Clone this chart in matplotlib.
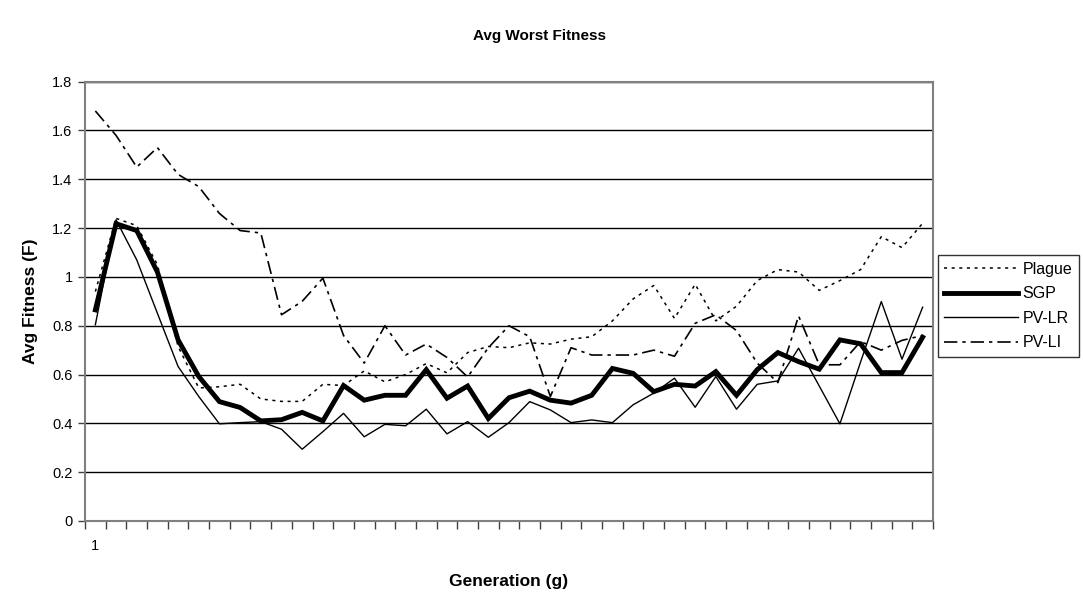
import numpy as np
import matplotlib
matplotlib.use("Agg")
import matplotlib.pyplot as plt

plt.rcParams['font.family'] = ['Liberation Sans', 'DejaVu Sans']

# data (41 generations)
generations = np.arange(1, 42)
plague = [0.94, 1.24, 1.21, 1.05, 0.715, 0.545, 0.55, 0.56, 0.50, 0.49, 0.49,
          0.56, 0.555, 0.615, 0.57, 0.60, 0.645, 0.607, 0.69, 0.715, 0.71,
          0.73, 0.725, 0.745, 0.755, 0.82, 0.91, 0.965, 0.83, 0.97, 0.82,
          0.88, 0.985, 1.03, 1.02, 0.945, 0.985, 1.03, 1.165, 1.12, 1.22]
sgp = [0.865, 1.218, 1.19, 1.02, 0.742, 0.592, 0.489, 0.465, 0.41, 0.415, 0.445,
       0.41, 0.555, 0.495, 0.515, 0.515, 0.62, 0.503, 0.553, 0.42, 0.505,
       0.532, 0.495, 0.483, 0.515, 0.625, 0.605, 0.53, 0.56, 0.553, 0.612,
       0.515, 0.62, 0.69, 0.653, 0.622, 0.742, 0.726, 0.608, 0.608, 0.753]
pv_lr = [0.804, 1.234, 1.07, 0.851, 0.633, 0.51, 0.398, 0.403, 0.407, 0.376, 0.294,
         0.366, 0.441, 0.345, 0.396, 0.39, 0.458, 0.357, 0.407, 0.343, 0.403,
         0.489, 0.455, 0.403, 0.414, 0.403, 0.476, 0.524, 0.585, 0.466, 0.592,
         0.458, 0.56, 0.574, 0.708, 0.553, 0.398, 0.652, 0.899, 0.663, 0.876]
pv_li = [1.68, 1.58, 1.45, 1.53, 1.42, 1.37, 1.26, 1.19, 1.18, 0.845, 0.90,
         0.995, 0.76, 0.647, 0.80, 0.68, 0.725, 0.67, 0.59, 0.71, 0.80,
         0.755, 0.51, 0.71, 0.68, 0.68, 0.68, 0.70, 0.675, 0.81, 0.845,
         0.78, 0.647, 0.567, 0.84, 0.64, 0.64, 0.735, 0.70, 0.74, 0.76]
y_ticks = np.arange(0, 1.81, 0.2)
y_labels = ["0", "0.2", "0.4", "0.6", "0.8", "1", "1.2", "1.4", "1.6", "1.8"]

fig = plt.figure(figsize=(10.83, 6.06), dpi=100)
ax = fig.add_axes([0.0785, 0.1403, 0.783, 0.7249])

ax.plot(generations, plague, color='black', lw=1.1, ls=(0, (2, 3)), label='Plague')
ax.plot(generations, sgp, color='black', lw=3.5, solid_joinstyle='miter', label='SGP')
ax.plot(generations, pv_lr, color='black', lw=1.0, label='PV-LR')
ax.plot(generations, pv_li, color='black', lw=1.2, ls=(0, (8, 3, 2, 3)), label='PV-LI')

ax.set_xlim(0.5, 41.5)
ax.set_ylim(0, 1.8)
ax.set_yticks(y_ticks)
ax.set_yticklabels(y_labels, fontsize=10.5)
ax.yaxis.grid(True, color='black', lw=1.0)
ax.set_axisbelow(True)

# category boundaries as tick marks, only the first label shown
ax.set_xticks(np.arange(0.5, 42, 1))
ax.set_xticklabels([])
ax.set_xticks([1], minor=True)
ax.set_xticklabels(["1"], minor=True, fontsize=10.5)
ax.tick_params(axis='x', which='major', length=6, width=1, color='#404040')
ax.tick_params(axis='x', which='minor', length=0, pad=13)
ax.tick_params(axis='y', length=5, width=1, color='#404040', pad=4)

for side in ['left', 'right', 'top', 'bottom']:
    ax.spines[side].set_color('#808080')
    ax.spines[side].set_linewidth(1.5)

fig.text(0.4985, 0.94, "Avg Worst Fitness", ha='center', va='center',
         fontsize=11, fontweight='bold')
ax.set_ylabel("Avg Fitness (F)", fontsize=12.5, fontweight='bold', labelpad=10)
fig.text(0.47, 0.04, "Generation (g)", ha='center', va='center',
         fontsize=12.5, fontweight='bold')

leg = ax.legend(loc='upper left', bbox_to_anchor=(0.866, 0.579),
                bbox_transform=fig.transFigure, fontsize=11.5, frameon=True,
                fancybox=False, edgecolor='black', handlelength=4.6,
                handletextpad=0.3, labelspacing=0.6, borderaxespad=0,
                borderpad=0.4)
leg.get_frame().set_linewidth(1.0)

fig.savefig("out.png", dpi=100)
